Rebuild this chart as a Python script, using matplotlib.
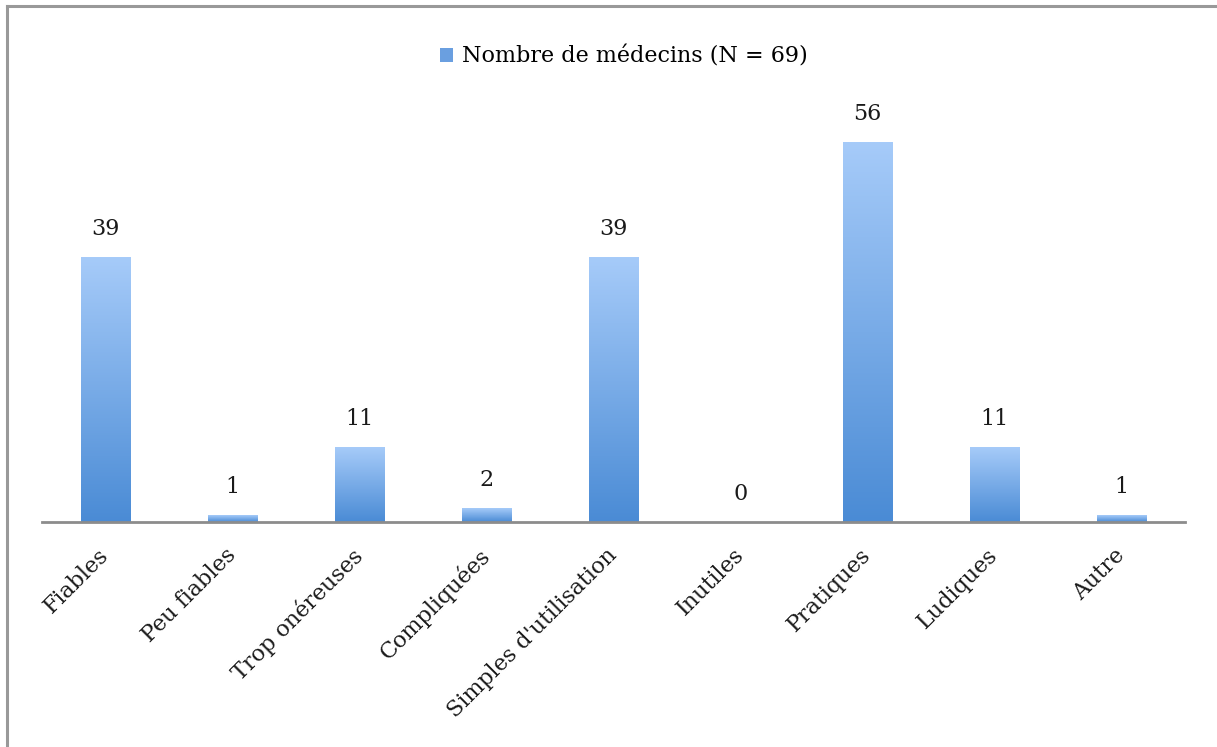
import numpy as np
import matplotlib.pyplot as plt
import matplotlib.transforms as mtransforms
from matplotlib.colors import LinearSegmentedColormap
from matplotlib.patches import Patch
from matplotlib.lines import Line2D

categories = ["Fiables", "Peu fiables", "Trop onéreuses", "Compliquées",
              "Simples d'utilisation", "Inutiles", "Pratiques", "Ludiques", "Autre"]
values = [39, 1, 11, 2, 39, 0, 56, 11, 1]
legend_label = "Nombre de médecins (N = 69)"

plt.rcParams['font.family'] = ['DejaVu Serif']

W, H = 1217, 747
fig = plt.figure(figsize=(W / 100, H / 100), dpi=100)
# axes placed in pixel coordinates
left, right, bottom, top = 42, 1185, 522, 115
ax = fig.add_axes([left / W, 1 - bottom / H, (right - left) / W, (bottom - top) / H])

x = np.arange(len(categories))
bar_w = 0.39
cmap = LinearSegmentedColormap.from_list("grad", ["#4a8bd5", "#a6cbf9"])
grad = np.linspace(0, 1, 256).reshape(-1, 1)

for xi, v in zip(x, values):
    if v > 0:
        ax.imshow(grad, cmap=cmap, aspect='auto', origin='lower',
                  extent=[xi - bar_w / 2, xi + bar_w / 2, 0, v], zorder=2)
    ax.text(xi, v + 2.5, str(v), ha='center', va='bottom', fontsize=16, color='#1a1a1a')

ax.set_xlim(-0.5, len(categories) - 0.5)
ax.set_ylim(0, 60)
ax.set_yticks([])
ax.set_xticks(x)
ax.set_xticklabels(categories, rotation=45, ha='right', rotation_mode='anchor',
                   fontsize=16, color='#1a1a1a')
ax.tick_params(axis='x', length=0, pad=16)
# nudge rotated labels a little to the left
shift = mtransforms.ScaledTranslation(-8 / 100, 0, fig.dpi_scale_trans)
for lbl in ax.get_xticklabels():
    lbl.set_transform(lbl.get_transform() + shift)
for s in ['top', 'right', 'left']:
    ax.spines[s].set_visible(False)
ax.spines['bottom'].set_color('#8c8c8c')
ax.spines['bottom'].set_linewidth(2)
ax.set_facecolor('none')

leg = fig.legend(handles=[Patch(facecolor='#6a9fe0', edgecolor='none')], labels=[legend_label],
                 loc='center', bbox_to_anchor=(624 / W, 1 - 57 / H), frameon=False,
                 fontsize=16, handlelength=0.6, handleheight=0.6, handletextpad=0.4)

# outer frame (top and left only)
fig.add_artist(Line2D([7 / W, 1], [1 - 6 / H, 1 - 6 / H], color='#999999', lw=2.2,
                      transform=fig.transFigure))
fig.add_artist(Line2D([7 / W, 7 / W], [0, 1 - 6 / H], color='#999999', lw=2.2,
                      transform=fig.transFigure))

fig.savefig("out.png", dpi=100, facecolor='white')
